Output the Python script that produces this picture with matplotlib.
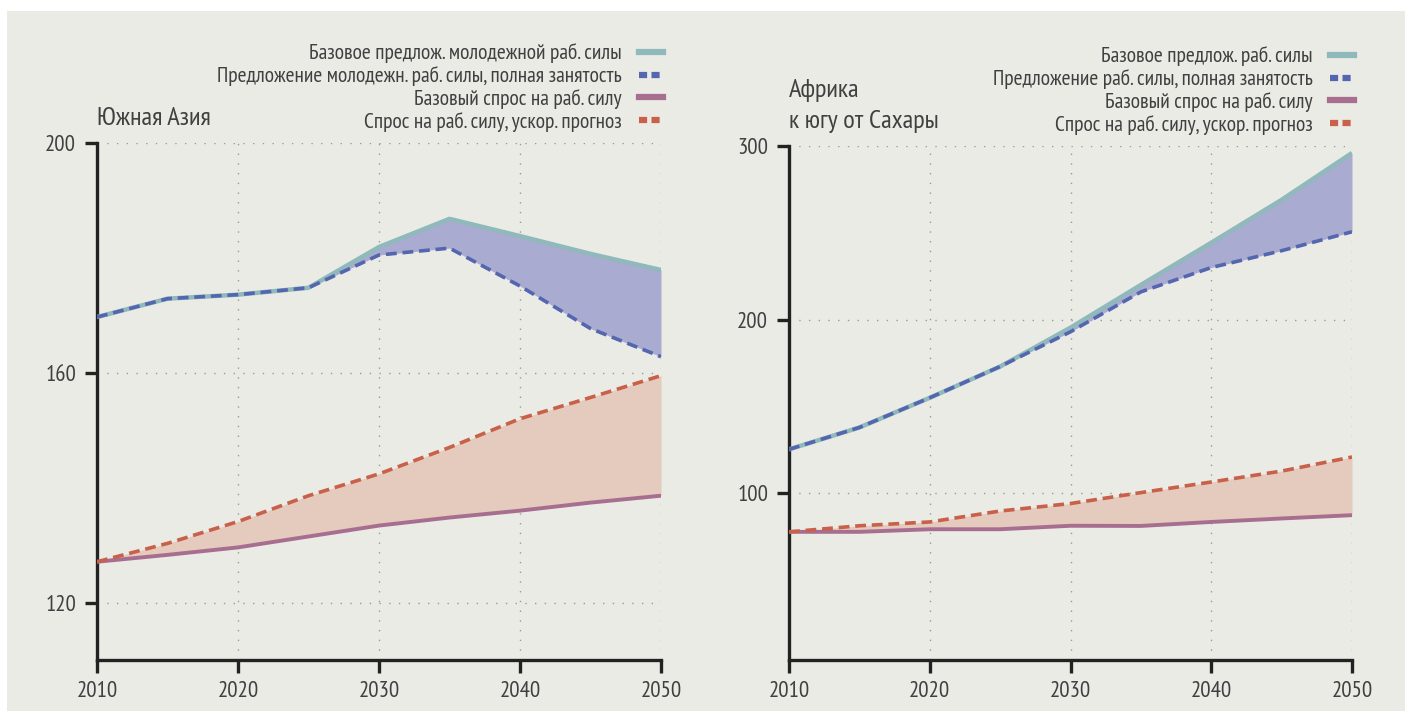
import matplotlib
matplotlib.use("Agg")
import matplotlib.pyplot as plt
from matplotlib.patches import Rectangle
from matplotlib.lines import Line2D

# condensed face close to the original; DejaVu only as a last resort
plt.rcParams['font.family'] = ['PT Sans Narrow', 'Roboto Condensed', 'DejaVu Sans']

# Data
years = [2010, 2015, 2020, 2025, 2030, 2035, 2040, 2045, 2050]

# South Asia
sa_supply_base = [169.7, 172.9, 173.6, 174.8, 181.9, 186.8, 183.8, 180.7, 177.9]
sa_supply_full = [169.7, 172.9, 173.6, 174.8, 180.5, 181.7, 175.1, 167.7, 162.8]
sa_demand_base = [127.1, 128.3, 129.6, 131.5, 133.4, 134.8, 136.0, 137.4, 138.6]
sa_demand_fast = [127.1, 130.3, 134.1, 138.6, 142.4, 147.0, 152.0, 155.7, 159.5]

# Sub-Saharan Africa
af_supply_base = [125.3, 137.9, 155.0, 173.0, 195.4, 220.0, 244.3, 269.0, 296.0]
af_supply_full = [125.3, 137.9, 155.0, 173.0, 193.0, 216.0, 230.0, 239.7, 250.6]
af_demand_base = [77.8, 77.8, 79.3, 79.3, 81.3, 81.2, 83.5, 85.5, 87.4]
af_demand_fast = [77.8, 81.3, 83.5, 89.8, 94.1, 100.4, 106.5, 112.8, 120.9]

sa_labels = ["Базовое предлож. молодежной раб. силы",
             "Предложение молодежн. раб. силы, полная занятость",
             "Базовый спрос на раб. силу",
             "Спрос на раб. силу, ускор. прогноз"]
af_labels = ["Базовое предлож. раб. силы",
             "Предложение раб. силы, полная занятость",
             "Базовый спрос на раб. силу",
             "Спрос на раб. силу, ускор. прогноз"]

BG = "#ebebe6"
TXT = "#404040"
C_TEAL = "#8fb9bb"
C_BLUE = "#5566b0"
C_BLUE_FILL = "#a9acd0"
C_PURPLE = "#a86e90"
C_ORANGE = "#c8604a"
C_ORANGE_FILL = "#e4cbbd"

fig = plt.figure(figsize=(14.05, 7.11), dpi=100)
fig.patches.append(Rectangle((7 / 1405, 0), 1, 1 - 11 / 711, transform=fig.transFigure,
                             facecolor=BG, edgecolor="none", zorder=-10))


def draw_panel(ax, sb, sf, db, df, labels, ylim, yticks):
    ax.set_facecolor(BG)
    ax.fill_between(years, sb, sf, color=C_BLUE_FILL, lw=0, zorder=1)
    ax.fill_between(years, db, df, color=C_ORANGE_FILL, lw=0, zorder=1)
    ax.plot(years, sb, color=C_TEAL, lw=3.2, zorder=3, solid_capstyle="butt")
    ax.plot(years, sf, color=C_BLUE, lw=2.6, dashes=(3, 1.6), zorder=4)
    ax.plot(years, db, color=C_PURPLE, lw=2.8, zorder=3, solid_capstyle="butt")
    ax.plot(years, df, color=C_ORANGE, lw=2.6, dashes=(3, 1.6), zorder=4)

    ax.set_xlim(2010, 2050)
    ax.set_ylim(*ylim)
    ax.set_xticks([2010, 2020, 2030, 2040, 2050])
    ax.set_yticks(yticks)
    for s in ["top", "right"]:
        ax.spines[s].set_visible(False)
    for s in ["left", "bottom"]:
        ax.spines[s].set_linewidth(2.4)
        ax.spines[s].set_color("#222222")
    ax.tick_params(length=9, width=2.4, color="#222222", labelsize=16.5,
                   labelcolor=TXT, pad=6)
    ax.grid(True, color="#999999", linestyle=(0, (1, 6)), linewidth=1)
    ax.set_axisbelow(True)

    handles = [
        Line2D([], [], color=C_TEAL, lw=4.5),
        Line2D([], [], color=C_BLUE, lw=4.5, dashes=(1.3, 0.7)),
        Line2D([], [], color=C_PURPLE, lw=4.5),
        Line2D([], [], color=C_ORANGE, lw=4.5, dashes=(1.3, 0.7)),
    ]
    leg = ax.legend(handles, labels, loc="lower right", bbox_to_anchor=(1.03, 0.993),
                    frameon=False, markerfirst=False, fontsize=15.5,
                    handlelength=1.1, handletextpad=0.8, labelspacing=0.13,
                    borderaxespad=0.3)
    for t in leg.get_texts():
        t.set_color(TXT)
        t.set_ha("right")
    leg._legend_box.align = "right"


ax1 = fig.add_axes([97 / 1405, 1 - 660 / 711, 564 / 1405, 517 / 711])
draw_panel(ax1, sa_supply_base, sa_supply_full, sa_demand_base, sa_demand_fast,
           sa_labels, (110, 200), [120, 160, 200])
ax1.text(0.0, 1.025, "Южная Азия", transform=ax1.transAxes, fontsize=19,
         color=TXT, ha="left", va="bottom")

ax2 = fig.add_axes([789 / 1405, 1 - 660 / 711, 563 / 1405, 514 / 711])
draw_panel(ax2, af_supply_base, af_supply_full, af_demand_base, af_demand_fast,
           af_labels, (4, 300), [100, 200, 300])
ax2.text(0.0, 1.025, "Африка\nк югу от Сахары", transform=ax2.transAxes,
         fontsize=19, color=TXT, ha="left", va="bottom", linespacing=1.45)

fig.savefig("out.png", dpi=100, facecolor="white")
